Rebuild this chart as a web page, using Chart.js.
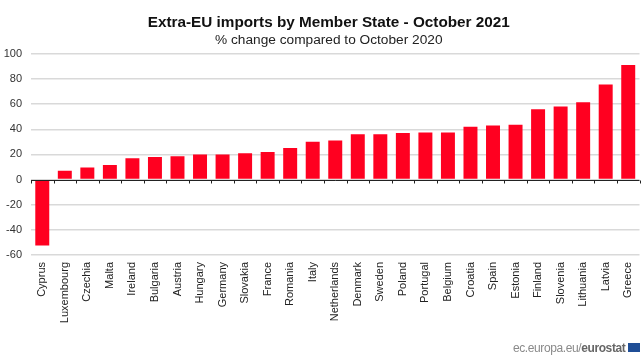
<!DOCTYPE html>
<html><head><meta charset="utf-8">
<script src="https://cdn.jsdelivr.net/npm/chart.js@4"></script>
<style>
html,body{margin:0;padding:0;background:#fff;overflow:hidden}
#wrap{position:relative;width:644px;height:364px}
#foot{position:absolute;left:513px;top:341px;font:12px "Liberation Sans",Arial,sans-serif;color:#8a8a8a;white-space:nowrap;letter-spacing:-0.4px}
#foot b{color:#666}
#flag{position:absolute;left:628px;top:343px;width:12px;height:9px;background:#1f4e96}
</style></head><body>
<div id="wrap"><canvas id="c" width="644" height="364"></canvas>
<div id="foot">ec.europa.eu/<b>eurostat</b></div><div id="flag"></div></div>
<script>
const categories=["Cyprus","Luxembourg","Czechia","Malta","Ireland","Bulgaria","Austria","Hungary","Germany","Slovakia","France","Romania","Italy","Netherlands","Denmark","Sweden","Poland","Portugal","Belgium","Croatia","Spain","Estonia","Finland","Slovenia","Lithuania","Latvia","Greece"];
const changes=[-52.5,7,9.5,11.5,17,18,18.5,20,20,21,22,25,30,31,36,36,37,37.5,37.5,42,43,43.5,56,58,61.5,75.5,91];
const titleText="Extra-EU imports by Member State - October 2021";
const subtitleText="% change compared to October 2020";
const FONT='"Liberation Sans",Arial,sans-serif';
const zeroAxis={id:'zeroAxis',
 beforeDraw(ch){ch.scales.y.left=0;},
 afterDatasetsDraw(ch){
  const {ctx,scales:{x,y}}=ch,y0=Math.round(y.getPixelForValue(0))+0.5;
  ctx.save();ctx.strokeStyle='#222';ctx.lineWidth=1;ctx.beginPath();
  ctx.moveTo(x.left,y0);ctx.lineTo(x.right,y0);
  const step=(x.right-x.left)/categories.length;
  for(let i=0;i<=categories.length;i++){
    const px=Math.round(x.getPixelForValue(i)-step/2)+0.5;
    ctx.moveTo(px,y0);ctx.lineTo(px,y0+3);
  }
  ctx.stroke();ctx.restore();
}};
new Chart(document.getElementById('c'),{
  type:'bar',
  data:{labels:categories,datasets:[{data:changes,backgroundColor:'#ff0020',borderWidth:0,barPercentage:0.62,categoryPercentage:1}]},
  plugins:[zeroAxis],
  options:{
    responsive:false,animation:false,
    layout:{padding:{left:18,right:4.5,top:0,bottom:0}},
    plugins:{
      legend:{display:false},tooltip:{enabled:false},
      title:{display:true,text:titleText,color:'#111',font:{family:FONT,size:15.3,weight:'bold'},padding:{top:14,bottom:0}},
      subtitle:{display:true,text:subtitleText,color:'#222',font:{family:FONT,size:13.7,weight:'normal'},padding:{top:0,bottom:5}}
    },
    scales:{
      x:{
        grid:{display:false},border:{display:false},
        afterFit(s){s.height=109},
        ticks:{autoSkip:false,minRotation:90,maxRotation:90,color:'#222',padding:-1,font:{family:FONT,size:11}}
      },
      y:{
        min:-60,max:100,
        afterFit(s){s.width=13},
        grid:{color:'#d9d9d9',lineWidth:1.5,drawTicks:false},border:{display:false},
        ticks:{stepSize:20,color:'#333',padding:9,font:{family:FONT,size:11}}
      }
    }
  }
});
</script></body></html>
